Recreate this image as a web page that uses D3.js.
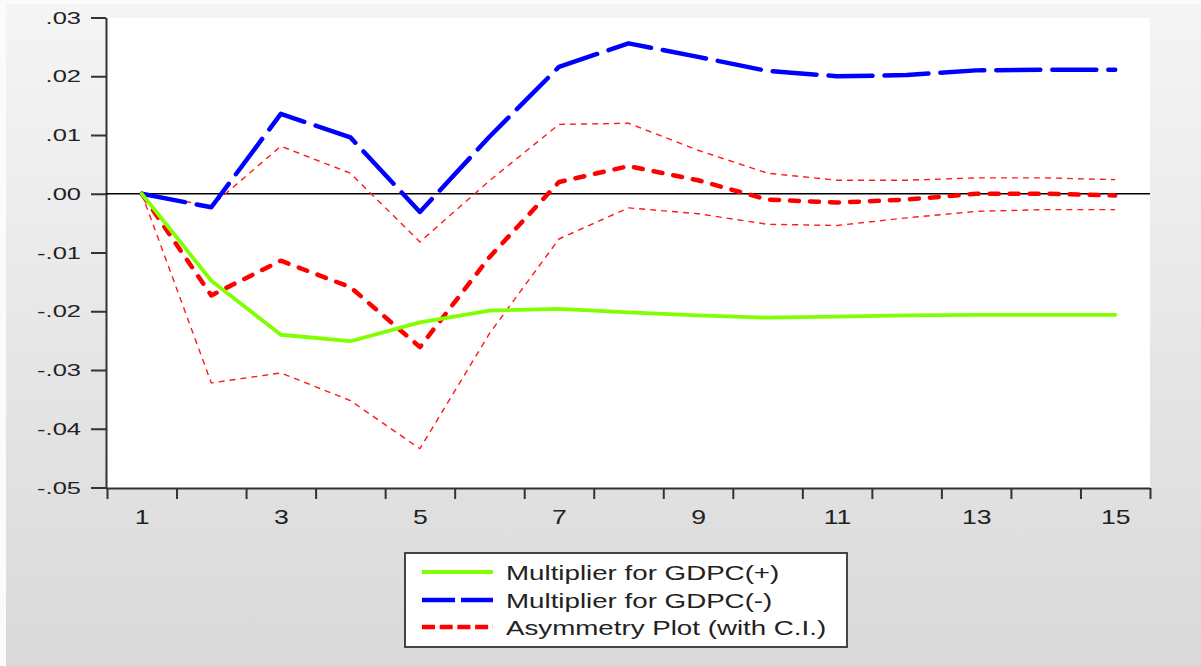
<!DOCTYPE html>
<html>
<head>
<meta charset="utf-8">
<script src="https://cdn.jsdelivr.net/npm/d3@7"></script>
<style>
  html, body { margin: 0; padding: 0; background: #fbfbfb; }
  svg { display: block; }
</style>
</head>
<body>
<svg id="chart" width="1201" height="666"></svg>
<script>
// Periods (horizon) and the dynamic multiplier paths
const periods = [1, 2, 3, 4, 5, 6, 7, 8, 9, 10, 11, 12, 13, 14, 15];
const multPositive = [0, -0.0148, -0.0240, -0.0251, -0.0219, -0.0199, -0.0196, -0.0202, -0.0207, -0.0211, -0.0209, -0.0207, -0.0206, -0.0206, -0.0206];
const multNegative = [0, -0.0023, 0.0136, 0.0096, -0.0031, 0.0097, 0.0216, 0.0256, 0.0233, 0.0209, 0.0200, 0.0202, 0.0210, 0.0211, 0.0211];
const asymmetry    = [0, -0.0173, -0.0114, -0.0159, -0.0261, -0.0108, 0.0020, 0.0047, 0.0023, -0.0010, -0.0015, -0.0010, 0.0000, 0.0000, -0.0003];
const ciUpper      = [0, -0.0021, 0.0081, 0.0035, -0.0082, 0.0022, 0.0118, 0.0120, 0.0074, 0.0035, 0.0023, 0.0023, 0.0027, 0.0027, 0.0024];
const ciLower      = [0, -0.0322, -0.0305, -0.0352, -0.0434, -0.0238, -0.0077, -0.0024, -0.0034, -0.0052, -0.0054, -0.0041, -0.0030, -0.0027, -0.0027];

const yTickValues = [0.03, 0.02, 0.01, 0.00, -0.01, -0.02, -0.03, -0.04, -0.05];
const xTickLabels = [1, 3, 5, 7, 9, 11, 13, 15];
const legendLabels = ["Multiplier for GDPC(+)", "Multiplier for GDPC(-)", "Asymmetry Plot (with C.I.)"];

const W = 1201, H = 666;
const plot = { left: 106, right: 1150, top: 18, bottom: 488 };
const svg = d3.select("#chart");

// Gray panel background with a soft vertical gradient
const defs = svg.append("defs");
const grad = defs.append("linearGradient").attr("id", "panelBg")
  .attr("x1", 0).attr("y1", 0).attr("x2", 0).attr("y2", 1);
grad.append("stop").attr("offset", "0%").attr("stop-color", "#f5f5f5");
grad.append("stop").attr("offset", "100%").attr("stop-color", "#d9d9d9");

svg.append("rect").attr("x", 6).attr("y", 4).attr("width", W - 6).attr("height", H - 4)
  .attr("fill", "url(#panelBg)");

svg.append("rect")
  .attr("x", plot.left).attr("y", plot.top)
  .attr("width", plot.right - plot.left).attr("height", plot.bottom - plot.top)
  .attr("fill", "#ffffff");

// Scales: each period sits in the middle of its slot
const x = d3.scaleLinear().domain([0.5, 15.5]).range([plot.left + 1, plot.right]);
const y = d3.scaleLinear().domain([-0.05, 0.03]).range([487.5, 17.5]);

// ".03" / "-.01" style labels with a plain hyphen for the sign
const fmt = v => {
  const s = Math.abs(v).toFixed(2).replace(/^0\./, ".");
  return (v < 0 ? "-" : "") + s;
};
const axisColor = "#333";

// Y axis
const yAxis = svg.append("g")
  .attr("transform", `translate(${plot.left},0)`)
  .call(d3.axisLeft(y).tickValues(yTickValues).tickSize(15).tickSizeOuter(0).tickFormat(fmt));
yAxis.select(".domain").attr("stroke", axisColor).attr("stroke-width", 2);
yAxis.selectAll(".tick line").attr("stroke", axisColor).attr("stroke-width", 2);
const yScaleX = 1.5;
yAxis.selectAll(".tick text")
  .attr("x", -25 / yScaleX)
  .attr("dy", "0.33em")
  .attr("transform", `scale(${yScaleX},1)`)
  .attr("fill", "#222")
  .style("font-family", "'Liberation Sans', Arial, sans-serif")
  .style("font-size", "17px");

// X axis: tick marks at slot boundaries, labels at every other period
const boundaries = d3.range(0.5, 15.51, 1);
const xAxis = svg.append("g")
  .attr("transform", `translate(0,${plot.bottom})`)
  .call(d3.axisBottom(x).tickValues(boundaries).tickSize(11).tickSizeOuter(0).tickFormat(""));
xAxis.select(".domain").attr("stroke", axisColor).attr("stroke-width", 2)
  .attr("d", `M${plot.left},0.5H${plot.right}`);
xAxis.selectAll(".tick line").attr("stroke", axisColor).attr("stroke-width", 2);

const xLabels = svg.append("g")
  .attr("transform", `translate(0,${plot.bottom})`)
  .call(d3.axisBottom(x).tickValues(xTickLabels).tickSize(0).tickPadding(22).tickFormat(d3.format("d")));
xLabels.select(".domain").remove();
xLabels.selectAll(".tick text")
  .attr("transform", "scale(1.33,1)")
  .attr("fill", "#222")
  .style("font-family", "'Liberation Sans', Arial, sans-serif")
  .style("font-size", "20px");

// Zero reference line
svg.append("line")
  .attr("x1", plot.left).attr("x2", plot.right)
  .attr("y1", y(0)).attr("y2", y(0))
  .attr("stroke", "#000").attr("stroke-width", 1.5);

// Series lines
const line = d3.line().x((d, i) => x(periods[i])).y(d => y(d));

const series = [
  { values: ciUpper,      color: "#ff1a1a", width: 1.4, dash: "6,5",   cap: "butt" },
  { values: ciLower,      color: "#ff1a1a", width: 1.4, dash: "6,5",   cap: "butt" },
  { values: asymmetry,    color: "#ff0000", width: 4.5, dash: "9,11",  cap: "round" },
  { values: multNegative, color: "#0000ff", width: 4.5, dash: "44,12", cap: "round" },
  { values: multPositive, color: "#80ff00", width: 3.8, dash: null,    cap: "round" }
];

svg.append("g").selectAll("path").data(series).join("path")
  .attr("d", s => line(s.values))
  .attr("fill", "none")
  .attr("stroke", s => s.color)
  .attr("stroke-width", s => s.width)
  .attr("stroke-dasharray", s => s.dash)
  .attr("stroke-linecap", s => s.cap)
  .attr("stroke-linejoin", "round");

// Legend
const legend = svg.append("g");
legend.append("rect")
  .attr("x", 405).attr("y", 553).attr("width", 442).attr("height", 94)
  .attr("fill", "#fff").attr("stroke", "#333").attr("stroke-width", 1.8);

const legendKeys = [
  { color: "#80ff00", dash: null,     width: 4 },
  { color: "#0000ff", dash: "33,6",   width: 4.5 },
  { color: "#ff0000", dash: "13,4.7", width: 4.5 }
];
const rowY = [572, 600, 627];

legend.selectAll("line.key").data(legendKeys).join("line")
  .attr("class", "key")
  .attr("x1", 422).attr("x2", 493)
  .attr("y1", (d, i) => rowY[i]).attr("y2", (d, i) => rowY[i])
  .attr("stroke", d => d.color)
  .attr("stroke-width", d => d.width)
  .attr("stroke-dasharray", d => d.dash);

legend.selectAll("text").data(legendLabels).join("text")
  .attr("transform", (d, i) => `translate(506,${rowY[i] + 7.5}) scale(1.32,1)`)
  .attr("fill", "#222")
  .style("font-family", "'Liberation Sans', Arial, sans-serif")
  .style("font-size", "21px")
  .text(d => d);
</script>
</body>
</html>
